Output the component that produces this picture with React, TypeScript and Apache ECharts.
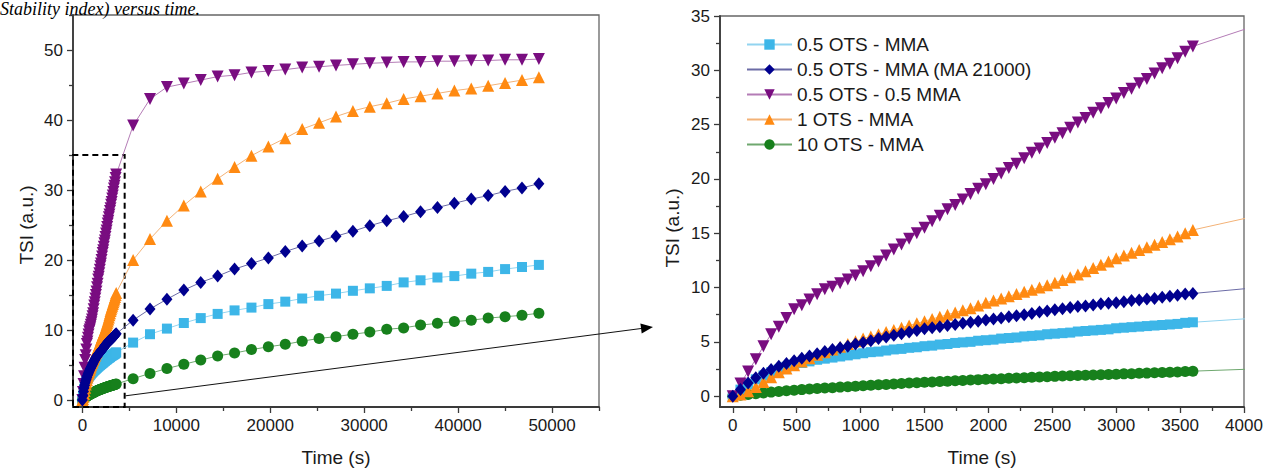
import React, { useEffect, useRef } from "react";
import * as echarts from "echarts";

const SERIES_NAMES = [
  "0.5 OTS - MMA",
  "0.5 OTS - MMA (MA 21000)",
  "0.5 OTS - 0.5 MMA",
  "1 OTS - MMA",
  "10 OTS - MMA",
];

// time (s) of the dense early measurements
const DENSE_T = [
  0, 60, 120, 180, 240, 300, 360, 420, 480, 540,
  600, 660, 720, 780, 840, 900, 960, 1020, 1080, 1140,
  1200, 1260, 1320, 1380, 1440, 1500, 1560, 1620, 1680, 1740,
  1800, 1860, 1920, 1980, 2040, 2100, 2160, 2220, 2280, 2340,
  2400, 2460, 2520, 2580, 2640, 2700, 2760, 2820, 2880, 2940,
  3000, 3060, 3120, 3180, 3240, 3300, 3360, 3420, 3480, 3540,
  3600,
];

// time (s) of the sparse later measurements
const SPARSE_T = [
  5400, 7200, 9000, 10800, 12600, 14400, 16200, 18000, 19800, 21600,
  23400, 25200, 27000, 28800, 30600, 32400, 34200, 36000, 37800, 39600,
  41400, 43200, 45000, 46800, 48600,
];

const LIGHTBLUE_DENSE = [
  0, 0.6, 1.1, 1.55, 1.9, 2.2, 2.45, 2.7, 2.9, 3.05,
  3.2, 3.35, 3.45, 3.55, 3.65, 3.75, 3.85, 3.95, 4.05, 4.1,
  4.2, 4.3, 4.35, 4.45, 4.5, 4.6, 4.65, 4.75, 4.8, 4.9,
  4.95, 5.0, 5.1, 5.15, 5.2, 5.3, 5.35, 5.4, 5.5, 5.55,
  5.6, 5.7, 5.75, 5.8, 5.85, 5.95, 6.0, 6.05, 6.1, 6.15,
  6.25, 6.3, 6.35, 6.4, 6.45, 6.5, 6.55, 6.6, 6.65, 6.75,
  6.8,
];
const LIGHTBLUE_SPARSE = [
  8.2, 9.4, 10.2, 11.0, 11.7, 12.3, 12.8, 13.2, 13.7, 14.05,
  14.5, 14.9, 15.2, 15.6, 15.95, 16.3, 16.8, 17.1, 17.5, 17.7,
  18.05, 18.3, 18.7, 19.0, 19.3,
];

const NAVY_DENSE = [
  0, 0.6, 1.2, 1.7, 2.1, 2.45, 2.75, 3.0, 3.25, 3.5,
  3.7, 3.9, 4.1, 4.3, 4.45, 4.6, 4.8, 4.95, 5.1, 5.3,
  5.45, 5.6, 5.75, 5.9, 6.05, 6.2, 6.3, 6.4, 6.5, 6.6,
  6.7, 6.8, 6.9, 7.0, 7.1, 7.2, 7.3, 7.4, 7.5, 7.6,
  7.75, 7.85, 7.95, 8.05, 8.15, 8.25, 8.3, 8.4, 8.5, 8.55,
  8.6, 8.7, 8.8, 8.85, 8.95, 9.0, 9.1, 9.2, 9.3, 9.4,
  9.45,
];
const NAVY_SPARSE = [
  11.4, 13.0, 14.4, 15.7, 16.8, 17.7, 18.7, 19.5, 20.3, 21.2,
  22.0, 22.7, 23.4, 24.1, 24.9, 25.6, 26.2, 26.9, 27.5, 28.1,
  28.7, 29.2, 29.8, 30.3, 30.9,
];

const PURPLE_DENSE = [
  0, 1.16, 2.27, 3.4, 4.6, 5.7, 6.4, 7.2, 8.0, 8.36,
  8.9, 9.37, 9.83, 10.07, 10.4, 10.74, 11.1, 11.5, 11.97, 12.4,
  12.95, 13.5, 13.96, 14.5, 15.0, 15.5, 16.1, 16.6, 17.2, 17.6,
  18.1, 18.6, 19.1, 19.5, 20.0, 20.5, 21.0, 21.4, 21.9, 22.4,
  22.8, 23.3, 23.8, 24.2, 24.7, 25.2, 25.6, 26.1, 26.5, 27.0,
  27.4, 27.9, 28.3, 28.8, 29.2, 29.7, 30.2, 30.6, 31.1, 31.7,
  32.2,
];
const PURPLE_SPARSE = [
  39.2, 43.0, 44.7, 45.2, 45.7, 46.2, 46.4, 46.8, 47.0, 47.2,
  47.5, 47.6, 47.8, 47.95, 48.1, 48.2, 48.3, 48.3, 48.4, 48.4,
  48.5, 48.5, 48.6, 48.6, 48.7,
];

const ORANGE_DENSE = [
  0, 0.15, 0.45, 0.85, 1.3, 1.75, 2.2, 2.55, 2.85, 3.2,
  3.5, 3.8, 4.05, 4.3, 4.55, 4.8, 5.05, 5.3, 5.5, 5.7,
  5.9, 6.1, 6.3, 6.5, 6.7, 6.9, 7.1, 7.3, 7.5, 7.7,
  7.9, 8.1, 8.35, 8.6, 8.8, 9.0, 9.2, 9.4, 9.6, 9.8,
  10.0, 10.2, 10.45, 10.7, 10.95, 11.2, 11.5, 11.8, 12.1, 12.4,
  12.7, 12.95, 13.2, 13.45, 13.7, 13.95, 14.2, 14.45, 14.7, 15.0,
  15.3,
];
const ORANGE_SPARSE = [
  20.0, 23.0, 25.6, 27.8, 29.8, 31.6, 33.3, 34.9, 36.2, 37.4,
  38.7, 39.6, 40.5, 41.3, 41.9, 42.4, 43.0, 43.4, 43.8, 44.2,
  44.5, 44.9, 45.3, 45.7, 46.1,
];

const GREEN_DENSE = [
  0, 0.08, 0.15, 0.22, 0.3, 0.37, 0.43, 0.5, 0.55, 0.6,
  0.65, 0.7, 0.74, 0.78, 0.83, 0.87, 0.92, 0.96, 1.0, 1.04,
  1.08, 1.12, 1.16, 1.2, 1.24, 1.28, 1.31, 1.35, 1.38, 1.42,
  1.45, 1.48, 1.52, 1.55, 1.58, 1.61, 1.64, 1.67, 1.7, 1.73,
  1.76, 1.79, 1.82, 1.85, 1.87, 1.9, 1.92, 1.95, 1.97, 2.0,
  2.02, 2.05, 2.07, 2.1, 2.12, 2.15, 2.17, 2.2, 2.23, 2.26,
  2.3,
];
const GREEN_SPARSE = [
  3.05, 3.8, 4.5, 5.1, 5.7, 6.3, 6.7, 7.2, 7.6, 7.95,
  8.4, 8.8, 9.05, 9.4, 9.7, 10.1, 10.3, 10.7, 10.95, 11.2,
  11.4, 11.7, 11.9, 12.1, 12.4,
];

// tick values
const LEFT_X_MAJOR = [0, 10000, 20000, 30000, 40000, 50000];
const LEFT_X_MINOR = [5000, 15000, 25000, 35000, 45000, 55000];
const LEFT_Y_MAJOR = [0, 10, 20, 30, 40, 50];
const LEFT_Y_MINOR = [5, 15, 25, 35, 45, 55];
const RIGHT_X_MAJOR = [0, 500, 1000, 1500, 2000, 2500, 3000, 3500, 4000];
const RIGHT_X_MINOR = [250, 750, 1250, 1750, 2250, 2750, 3250, 3750];
const RIGHT_Y_MAJOR = [0, 5, 10, 15, 20, 25, 30, 35];
const RIGHT_Y_MINOR = [2.5, 7.5, 12.5, 17.5, 22.5, 27.5, 32.5];

const FONT = "Arial, 'Liberation Sans', sans-serif";
const AXIS_COLOR = "#3a3a3a";
const LABEL_COLOR = "#1a1a1a";

type Spec = {
  name: string;
  dense: number[];
  sparse: number[];
  symbol: string;
  size: number | number[];
  rotate: number;
  color: string;
  line: string;
};

const SPECS: Spec[] = [
  { name: SERIES_NAMES[4], dense: GREEN_DENSE, sparse: GREEN_SPARSE, symbol: "circle", size: 11, rotate: 0, color: "#17801c", line: "#6fa86f" },
  { name: SERIES_NAMES[0], dense: LIGHTBLUE_DENSE, sparse: LIGHTBLUE_SPARSE, symbol: "rect", size: 10, rotate: 0, color: "#3db6e8", line: "#92d4f0" },
  { name: SERIES_NAMES[3], dense: ORANGE_DENSE, sparse: ORANGE_SPARSE, symbol: "triangle", size: 12, rotate: 0, color: "#ff8a12", line: "#f3b277" },
  { name: SERIES_NAMES[2], dense: PURPLE_DENSE, sparse: PURPLE_SPARSE, symbol: "triangle", size: 12, rotate: 180, color: "#790d80", line: "#b47cb6" },
  { name: SERIES_NAMES[1], dense: NAVY_DENSE, sparse: NAVY_SPARSE, symbol: "diamond", size: [11, 13], rotate: 0, color: "#00008f", line: "#6c6ca6" },
];

function pairs(s: Spec) {
  const a = DENSE_T.map((t, i) => [t, s.dense[i]]);
  const b = SPARSE_T.map((t, i) => [t, s.sparse[i]]);
  return a.concat(b);
}

function valueAxis(
  gridIndex: number,
  position: string,
  min: number,
  max: number,
  ticks: number[],
  labels: boolean,
  tickLen: number,
  extra: any = {}
) {
  return {
    type: "value",
    gridIndex,
    position,
    min,
    max,
    splitLine: { show: false },
    axisLine: { show: labels, onZero: false, lineStyle: { color: AXIS_COLOR, width: 1.8 } },
    axisTick: {
      show: true,
      inside: false,
      length: tickLen,
      customValues: ticks,
      lineStyle: { color: AXIS_COLOR, width: 1.3 },
    },
    axisLabel: labels
      ? {
          show: true,
          customValues: ticks,
          fontSize: 17,
          color: LABEL_COLOR,
          fontFamily: FONT,
          margin: 10,
          formatter: (v: number) => String(v),
        }
      : { show: false },
    ...extra,
  };
}

export default function App() {
  const ref = useRef<HTMLDivElement>(null);

  useEffect(() => {
    const chart = echarts.init(ref.current!, null, { renderer: "svg" });

    const series: any[] = [];
    SPECS.forEach((s, k) => {
      const common = {
        type: "line",
        name: s.name,
        data: pairs(s),
        symbol: s.symbol,
        symbolSize: s.size,
        symbolRotate: s.rotate,
        showSymbol: true,
        showAllSymbol: true,
        clip: true,
        itemStyle: { color: s.color },
        lineStyle: { color: s.line, width: 1 },
        emphasis: { disabled: true },
      };
      const left: any = { ...common, xAxisIndex: 0, yAxisIndex: 0 };
      if (k === 0) {
        left.markArea = {
          silent: true,
          itemStyle: { color: "rgba(0,0,0,0)", borderColor: "#000", borderWidth: 2, borderType: [6, 4] },
          data: [[{ coord: [-1000, -1] }, { coord: [4500, 35] }]],
        };
      }
      series.push(left);
      series.push({ ...common, xAxisIndex: 2, yAxisIndex: 2 });
    });

    const nameFont = `19px ${FONT}`;
    const xName = {
      name: "Time (s)",
      nameLocation: "middle",
      nameGap: 41,
      nameTextStyle: { fontSize: 19, color: LABEL_COLOR, fontFamily: FONT },
    };

    const option: any = {
      animation: false,
      backgroundColor: "#fff",
      grid: [
        { left: 73, top: 15, width: 526, height: 392, show: true, borderColor: "#666", borderWidth: 1.3, backgroundColor: "rgba(0,0,0,0)" },
        { left: 720, top: 16, width: 524, height: 392, show: true, borderColor: "#666", borderWidth: 1.3, backgroundColor: "rgba(0,0,0,0)" },
      ],
      xAxis: [
        valueAxis(0, "bottom", -1000, 55000, LEFT_X_MAJOR, true, 6, xName),
        valueAxis(0, "bottom", -1000, 55000, LEFT_X_MINOR, false, 4),
        valueAxis(1, "bottom", -100, 4000, RIGHT_X_MAJOR, true, 6, xName),
        valueAxis(1, "bottom", -100, 4000, RIGHT_X_MINOR, false, 4),
      ],
      yAxis: [
        valueAxis(0, "left", -1, 55, LEFT_Y_MAJOR, true, 6),
        valueAxis(0, "left", -1, 55, LEFT_Y_MINOR, false, 4),
        valueAxis(1, "left", -1, 35, RIGHT_Y_MAJOR, true, 6),
        valueAxis(1, "left", -1, 35, RIGHT_Y_MINOR, false, 4),
      ],
      legend: {
        show: true,
        orient: "vertical",
        left: 741,
        top: 30,
        itemWidth: 45,
        itemHeight: 13,
        itemGap: 6,
        data: SERIES_NAMES,
        textStyle: { fontSize: 19, color: LABEL_COLOR, fontFamily: FONT },
        selectedMode: false,
      },
      graphic: [
        {
          type: "text",
          x: 0,
          y: 0,
          style: {
            text: "Stability index) versus time.",
            font: "italic 18px 'Liberation Serif', 'Times New Roman', serif",
            fill: "#000",
            verticalAlign: "top",
            align: "left",
          },
        },
        {
          type: "text",
          x: 26,
          y: 225,
          rotation: Math.PI / 2,
          style: { text: "TSI (a.u.)", font: nameFont, fill: LABEL_COLOR, align: "center", verticalAlign: "middle" },
        },
        {
          type: "text",
          x: 672,
          y: 228,
          rotation: Math.PI / 2,
          style: { text: "TSI (a.u.)", font: nameFont, fill: LABEL_COLOR, align: "center", verticalAlign: "middle" },
        },
        {
          type: "line",
          shape: { x1: 125.6, y1: 395.8, x2: 642, y2: 328.4 },
          style: { stroke: "#111", lineWidth: 1 },
        },
        {
          type: "polygon",
          shape: { points: [[653, 327], [641.7, 333.5], [640.4, 323.6]] },
          style: { fill: "#000" },
        },
      ],
      series,
    };

    chart.setOption(option);
    return () => chart.dispose();
  }, []);

  return (
    <div
      ref={ref}
      style={{ position: "absolute", left: 0, top: 0, width: 1277, height: 472 }}
    />
  );
}
